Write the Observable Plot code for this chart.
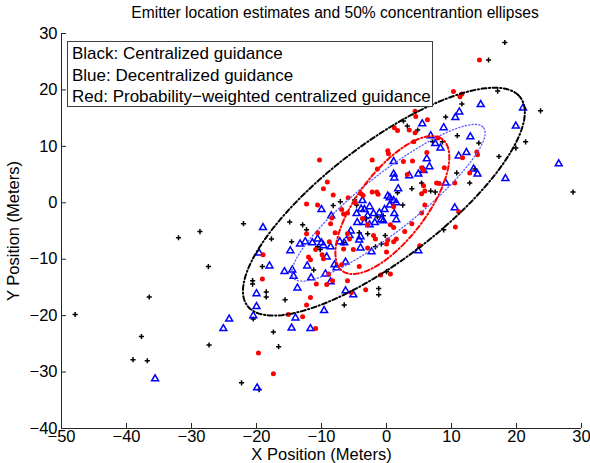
<!DOCTYPE html>
<html><head><meta charset="utf-8">
<script src="https://cdn.jsdelivr.net/npm/d3@7"></script>
<script src="https://cdn.jsdelivr.net/npm/@observablehq/plot@0.6"></script>
<style>
html,body{margin:0;padding:0;background:#fff;}
#wrap{position:relative;width:590px;height:463px;font-family:"Liberation Sans",Arial,Helvetica,sans-serif;color:#000;}
#title{position:absolute;left:80px;width:510px;top:4px;text-align:center;font-size:15.6px;line-height:18px;white-space:nowrap;}
#legend{position:absolute;left:67px;top:41px;width:366px;height:66px;box-sizing:border-box;border:1px solid #404040;background:#fff;font-size:17px;line-height:21.5px;padding:1px 0 0 4px;white-space:nowrap;}
</style></head><body>
<div id="wrap"><div id="title"></div><div id="legend"></div></div>
<script>
const titleText = "Emitter location estimates and 50% concentrantion ellipses";
const legendLines = ["Black: Centralized guidance", "Blue: Decentralized guidance", "Red: Probability\u2212weighted centralized guidance"];
const xLabel = "X Position (Meters)";
const yLabel = "Y Position (Meters)";
const xTicks = [-50,-40,-30,-20,-10,0,10,20,30];
const yTicks = [-40,-30,-20,-10,0,10,20,30];

// Black: centralized guidance estimates
const centralX = [-47.9,-32.0,-28.7,-22.0,-27.4,-36.5,-37.7,-39.0,-36.8,-27.3,-22.3,-20.6,-20.6,-20.5,-19.6,-14.9,-12.9,-17.7,-14.6,-19.1,-18.5,-18.5,-15.6,-6.5,-1.2,-1.2,-17.4,-16.6,-11.2,-10.6,-10.2,-7.1,-4.6,2.5,-0.5,-3.1,-4.2,-2.9,-12.3,-8.2,-6.6,-1.7,-0.8,-0.2,0.0,2.6,3.2,4.8,7.1,8.6,10.9,10.8,12.8,5.4,3.9,6.8,7.5,1.7,18.2,15.7,11.6,9.1,14.2,23.7,19.9,21.4,17.3,13.6,28.7,8.8,17.1,-4.9,-1.4];
const centralY = [-19.8,-6.2,-5.1,-3.7,-11.3,-16.7,-23.7,-27.8,-28.0,-25.2,-31.9,-13.8,-14.4,-20.6,-33.1,-3.4,-3.9,-6.4,-6.9,-11.3,-15.8,-16.7,-17.2,-18.1,-15.2,-16.3,-22.9,-25.5,-11.9,-7.8,-8.3,0.2,-0.4,-0.4,-2.3,-2.8,-5.3,-5.5,-4.8,-0.5,-7.1,-7.8,-7.3,-5.8,-12.2,14.5,13.6,12.9,10.8,10.8,11.9,5.3,3.5,3.5,2.5,2.1,1.9,1.8,28.4,25.3,17.5,15.2,10.6,16.3,9.7,10.8,8.2,6.0,1.9,-4.8,19.8,0.5,-2.5];

// Blue: decentralized guidance estimates
const decentralX = [-24.2,-25.1,-35.6,-20.0,-20.0,-20.5,-19.9,-19.6,-19.0,-10.0,-8.5,-18.0,-14.8,-13.3,-12.5,-11.4,-10.0,-15.7,-14.5,-14.3,-12.2,-11.6,-13.7,-8.6,-7.7,-6.3,-9.4,-9.2,-8.6,-7.2,-6.5,-4.2,-4.0,-6.3,-5.1,-9.6,-14.0,-14.6,-11.7,-2.3,4.9,
-4.6,-3.9,-3.4,-2.6,-2.0,-1.1,-0.3,0.5,-4.5,-3.4,-2.6,-1.8,-0.8,1.2,1.5,-5.5,-5.7,-4.0,-9.7,-8.0,-10.6,-3.7,0.2,0.5,1.1,-2.9,-0.5,1.5,
5.5,8.8,6.8,8.3,12.9,6.2,6.6,1.1,11.1,12.3,5.7,4.9,3.5,1.1,1.2,13.4,14.0,9.1,1.8,14.5,21.0,11.2,10.6,19.9,7.5,18.3,26.5,10.5];
const decentralY = [-20.6,-22.3,-31.2,-16.1,-18.4,-20.0,-32.8,-8.9,-4.4,-1.2,-2.3,-11.2,-8.5,-7.3,-6.9,-7.1,-7.1,-12.2,-11.9,-13.0,-11.2,-13.3,-15.1,-14.0,-11.5,-10.5,-12.6,-9.6,-7.8,-6.9,-7.1,-6.6,-8.0,-15.6,-16.3,-19.1,-20.4,-22.2,-22.3,-8.7,-8.5,
-1.9,-1.1,-1.2,-0.7,-1.9,-1.8,-1.2,-0.4,-3.5,-3.5,-3.9,-3.5,-3.0,-1.9,0.0,-5.0,-5.8,-6.0,-7.6,-11.0,-6.4,0.4,1.2,0.9,0.4,-2.3,-3.2,-3.0,
14.0,13.3,11.9,9.7,11.7,7.8,6.4,7.3,8.3,8.9,5.7,5.1,4.8,5.1,4.4,6.0,5.1,3.5,2.5,17.4,16.8,16.1,15.1,13.6,10.5,4.3,6.9,-0.9];

// Red: probability-weighted centralized guidance estimates
const weightedX = [-10.3,-9.1,-9.7,-8.2,-5.9,-3.9,-3.6,-1.5,-1.3,-1.4,-2.2,0.2,0.3,1.2,1.7,2.6,4.0,4.4,4.5,5.7,-4.8,-2.2,-12.3,-6.9,-6.0,-3.7,-2.9,0.6,1.1,-8.4,5.7,
4.2,6.2,7.9,13.9,14.0,12.8,7.7,8.1,10.5,5.9,5.4,
14.3,10.3,11.6,11.3,6.3,3.5,4.4,5.4,3.2,8.9,11.1,10.6,11.7,
1.1,5.9,5.4,3.9,2.8,1.5,1.1,
-10.6,-6.6,
-12.0,-11.7,-9.7,-7.9,-6.6,-5.1,-8.8,-10.9,-6.0,-2.0,-1.7,0.2,-8.9,-6.9,-4.2,-0.9,
-8.6,-12.3,-10.6,-9.9,-19.1,-10.8,-9.2,-8.3,-6.0,-3.2,-5.4,-11.7,-12.3,-15.1,-12.9,-10.9,0.6,5.1,0.0,0.0,-5.7,-2.9,
-19.7,-17.4,-19.0];
const weightedY = [7.6,3.7,2.5,1.4,0.9,1.6,1.3,1.9,1.5,6.0,7.6,9.2,8.7,13.3,12.8,7.3,7.4,16.2,15.3,5.7,0.0,1.9,-0.2,-1.2,-1.8,-2.8,-3.9,-3.9,-4.4,-2.7,3.0,
10.8,8.9,11.5,9.0,8.5,5.3,3.5,3.4,3.5,2.1,1.6,
25.3,19.7,19.3,18.8,14.7,12.9,12.4,6.2,5.0,6.2,-1.6,-4.3,8.0,
-0.7,-0.4,-1.8,-3.7,-5.1,-6.4,-6.9,
-0.4,-2.0,
-9.6,-10.1,-9.9,-5.3,-8.2,-8.3,-6.9,-8.3,-5.5,-5.8,-6.4,-6.6,-12.6,-11.0,-11.3,-12.8,
-3.7,-5.5,-5.3,-9.2,-13.5,-14.4,-14.5,-13.8,-13.8,-15.4,-15.9,-16.8,-18.1,-19.8,-20.2,-22.3,-12.6,-7.6,-7.3,-8.7,-6.4,-8.0,
-26.6,-30.3,-9.2];

// 50% concentration ellipses: center, semi-axes, orientation (degrees)
const ellipseSeries = ["central","decentral","weighted"];
const ellipseCx = [-0.4, 0.3, 0.9];
const ellipseCy = [0.2, 0.0, -0.4];
const ellipseA = [28.0, 19.8, 14.0];
const ellipseB = [9.7, 4.7, 5.5];
const ellipseThetaDeg = [42.4, 42.8, 58.0];

function pts(xs, ys) {
  const n = Math.min(xs.length, ys.length);
  return d3.range(n).map(i => ({x: xs[i], y: ys[i]}));
}
function ellipse(i) {
  const th = ellipseThetaDeg[i] * Math.PI / 180;
  const c = Math.cos(th), s = Math.sin(th);
  return d3.range(0, 361, 2).map(deg => {
    const t = deg * Math.PI / 180;
    const u = ellipseA[i] * Math.cos(t), v = ellipseB[i] * Math.sin(t);
    return {x: ellipseCx[i] + u * c - v * s, y: ellipseCy[i] + u * s + v * c};
  });
}

const central = pts(centralX, centralY);
const decentral = pts(decentralX, decentralY);
const weighted = pts(weightedX, weightedY);

const tickFont = 16.5;
const labelFont = 16.5;
const chart = Plot.plot({
  width: 590,
  height: 463,
  marginLeft: 61,
  marginRight: 9,
  marginTop: 33,
  marginBottom: 35,
  x: {domain: [-50, 30]},
  y: {domain: [-40, 30]},
  style: {fontFamily: '"Liberation Sans", Arial, Helvetica, sans-serif', fontSize: labelFont + "px", background: "#fff", color: "#000", overflow: "visible"},
  marks: [
    Plot.dot(central, {x: "x", y: "y", symbol: "plus", r: 1.8, stroke: "black", strokeWidth: 1.5}),
    Plot.dot(decentral, {x: "x", y: "y", symbol: "triangle2", r: 3.3, stroke: "blue", strokeWidth: 1.5}),
    Plot.dot(weighted, {x: "x", y: "y", r: 2.5, fill: "red", stroke: "none"}),
    Plot.line(ellipse(1), {x: "x", y: "y", stroke: "#5c5cff", strokeWidth: 1.3, strokeDasharray: "1.2,2.2"}),
    Plot.line(ellipse(2), {x: "x", y: "y", stroke: "red", strokeWidth: 2, strokeDasharray: "5,2.5,1.2,2.5"}),
    Plot.line(ellipse(0), {x: "x", y: "y", stroke: "black", strokeWidth: 2, strokeDasharray: "5,2.5,1.2,2.5"}),
    Plot.ruleX([-50], {stroke: "#262626", strokeWidth: 1}),
    Plot.ruleY([-40], {stroke: "#262626", strokeWidth: 1}),
    Plot.axisX({ticks: xTicks, tickSize: -5, tickPadding: 7, stroke: "#262626", fontSize: tickFont, label: null}),
    Plot.axisX({ticks: [], tickSize: 0, label: xLabel, labelAnchor: "center", labelOffset: 31, labelArrow: "none", fontSize: labelFont}),
    Plot.axisY({ticks: yTicks, tickSize: -5, tickPadding: 9, stroke: "#262626", fontSize: tickFont, label: null}),
    Plot.axisY({ticks: [], tickSize: 0, label: yLabel, labelAnchor: "center", labelOffset: 54, labelArrow: "none", fontSize: labelFont})
  ]
});
const wrap = document.getElementById("wrap");
wrap.insertBefore(chart, wrap.firstChild);
chart.style.position = "absolute";
chart.style.left = "0";
chart.style.top = "0";
document.getElementById("title").textContent = titleText;
const legend = document.getElementById("legend");
legendLines.forEach(t => { const d = document.createElement("div"); d.textContent = t; legend.appendChild(d); });
</script>
</body></html>
